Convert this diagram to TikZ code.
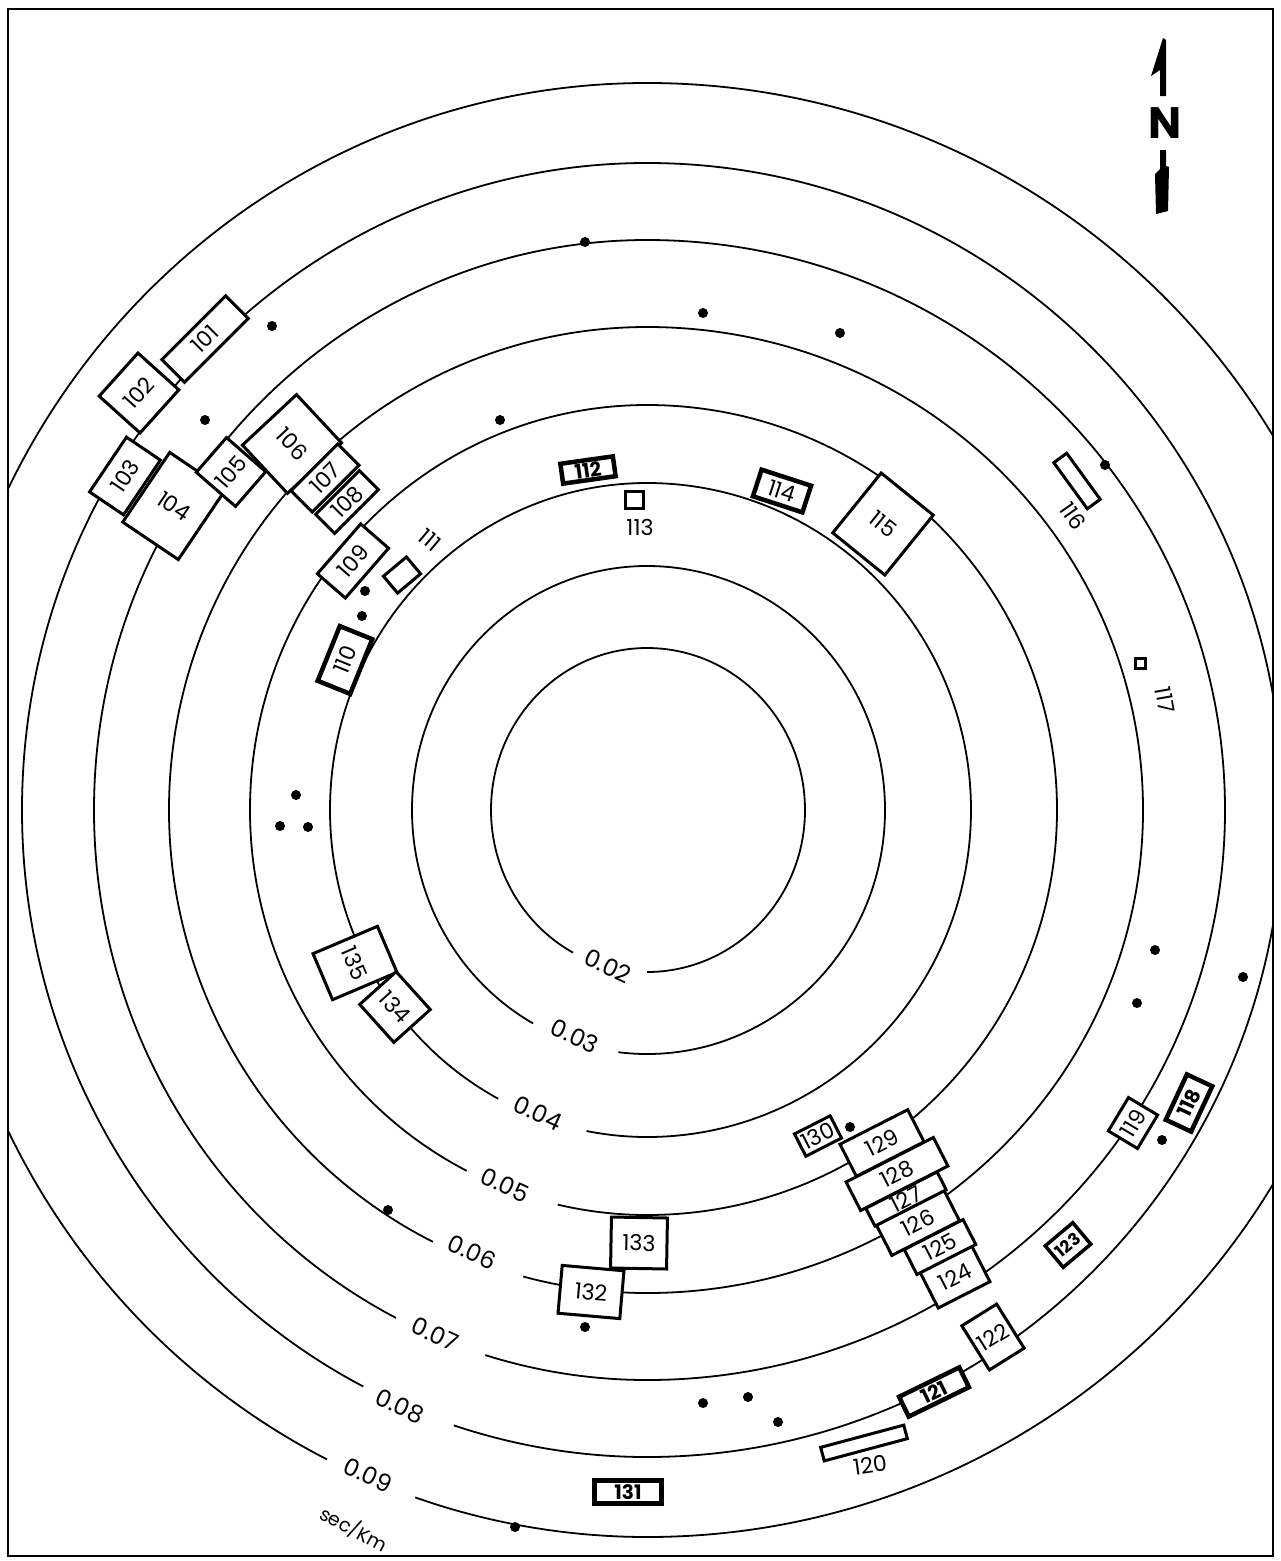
\documentclass[tikz,border=0pt]{standalone}
\usepackage{fontspec}
\setmainfont{Poppins}

\begin{document}
\begin{tikzpicture}[x=1pt, y=1pt,
  contour/.style={line width=1.8pt},
  stn/.style={draw, line width=3pt, fill=white, inner sep=0pt, font={\fontsize{22}{22}\selectfont}},
  heavy/.style={line width=4.5pt},
  stnbold/.style={stn, heavy, font={\fontsize{20}{20}\selectfont\bfseries}},
  isolabel/.style={font={\fontsize{24}{24}\selectfont}, rotate=-25, inner sep=1pt},
  tag/.style={font={\fontsize{22}{22}\selectfont}, inner sep=1pt},
  quake/.style={circle, fill, inner sep=0pt, minimum size=10pt}]
\useasboundingbox (0,0) rectangle (1280,-1561);
\draw[line width=2.5pt] (8,-9) rectangle (1273,-1556);
\coordinate (ctr) at (647,-810);

% slowness contours (east half a little wider)
\begin{scope}
\clip (8,-9) rectangle (1273,-1556);
\draw[contour] (ctr) ++(270:156 and 162)
  arc[start angle=-90, end angle=90, x radius=158, y radius=162]
  arc[start angle=90, end angle=241.7, x radius=156, y radius=162];
\draw[contour] (ctr) ++(263:235 and 244)
  arc[start angle=263, end angle=270, x radius=235, y radius=244]
  arc[start angle=-90, end angle=90, x radius=238, y radius=244]
  arc[start angle=90, end angle=241, x radius=235, y radius=244];
\draw[contour] (ctr) ++(259:317 and 327)
  arc[start angle=259, end angle=270, x radius=317, y radius=327]
  arc[start angle=-90, end angle=90, x radius=324, y radius=327]
  arc[start angle=90, end angle=242, x radius=317, y radius=327];
\draw[contour] (ctr) ++(257:397 and 405)
  arc[start angle=257, end angle=270, x radius=397, y radius=405]
  arc[start angle=-90, end angle=90, x radius=410, y radius=405]
  arc[start angle=90, end angle=243, x radius=397, y radius=405];
\draw[contour] (ctr) ++(255:478 and 483)
  arc[start angle=255, end angle=270, x radius=478, y radius=483]
  arc[start angle=-90, end angle=90, x radius=496, y radius=483]
  arc[start angle=90, end angle=243.4, x radius=478, y radius=483];
\draw[contour] (ctr) ++(253:553 and 570)
  arc[start angle=253, end angle=270, x radius=553, y radius=570]
  arc[start angle=-90, end angle=90, x radius=578, y radius=570]
  arc[start angle=90, end angle=243, x radius=553, y radius=570];
\draw[contour] (ctr) ++(252:625 and 647)
  arc[start angle=252, end angle=270, x radius=625, y radius=647]
  arc[start angle=-90, end angle=90, x radius=636, y radius=647]
  arc[start angle=90, end angle=243, x radius=625, y radius=647];
\draw[contour] (ctr) ++(251:712 and 727)
  arc[start angle=251, end angle=270, x radius=712, y radius=727]
  arc[start angle=-90, end angle=90, x radius=730, y radius=727]
  arc[start angle=90, end angle=243.3, x radius=712, y radius=727];
\end{scope}

\node[isolabel] (l02) at (608,-966) {0.02};
\node[isolabel] (l03) at (575,-1036) {0.03};
\node[isolabel] (l04) at (538,-1113) {0.04};
\node[isolabel] (l05) at (505,-1185) {0.05};
\node[isolabel] (l06) at (472,-1252) {0.06};
\node[isolabel] (l07) at (435,-1334) {0.07};
\node[isolabel] (l08) at (400,-1406) {0.08};
\node[isolabel] (l09) at (368,-1475) {0.09};
\node[isolabel, rotate=-3, font={\fontsize{19}{19}\selectfont}] (unit) at (354,-1529) {sec/Km};

% epicentres
\foreach \x/\y [count=\i] in {585/242, 272/326, 703/313, 840/333, 205/420, 500/420, 1105/465,
    365/591, 362/616, 296/795, 280/826, 308/827, 1155/950, 1243/977, 1137/1003, 1162/1140,
    850/1127, 388/1210, 585/1327, 703/1403, 748/1397, 778/1422, 515/1527}
  \node[quake] (q\i) at (\x,-\y) {};

% stations
\node[stn, rotate=45, minimum width=90, minimum height=32] (s101) at (205,-339) {101};
\node[stn, rotate=48, minimum width=58, minimum height=55] (s102) at (139,-393) {102};
\node[stn, rotate=56, minimum width=66, minimum height=41] (s103) at (125,-476) {103};
\node[stn, rotate=-34, minimum width=67, minimum height=84] (s104) at (174,-506) {104};
\node[stn, rotate=49, minimum width=46, minimum height=52] (s105) at (231,-472) {105};
\node[stn, rotate=-47, minimum width=66, minimum height=74] (s106) at (292,-444) {106};
\node[stn, rotate=45, minimum width=66, minimum height=30] (s107) at (325,-478) {107};
\node[stn, rotate=45, minimum width=62, minimum height=27] (s108) at (347,-502) {108};
\node[stn, rotate=49, minimum width=66, minimum height=37] (s109) at (353,-561) {109};
\node[stn, heavy, rotate=68, minimum width=59, minimum height=35] (s110) at (345,-660) {110};
\node[stn, rotate=40, minimum width=30, minimum height=22] (s111) at (402,-575) {};
\node[tag, rotate=-40] (t111) at (430,-540) {111};
\node[stnbold, rotate=8, minimum width=53, minimum height=20] (s112) at (588,-470) {112};
\node[stn, minimum width=18, minimum height=17] (s113) at (634,-500) {};
\node[tag] (t113) at (640,-527) {113};
\node[stn, heavy, rotate=-18, minimum width=52, minimum height=28] (s114) at (782,-491) {114};
\node[stn, rotate=-39, minimum width=67, minimum height=77] (s115) at (883,-524) {115};
\node[stn, rotate=-54, minimum width=57, minimum height=16] (s116) at (1077,-481) {};
\node[tag, rotate=-55] (t116) at (1073,-516) {116};
\node[stn, minimum width=10, minimum height=10] (s117) at (1140,-663) {};
\node[tag, rotate=-80] (t117) at (1165,-700) {117};
\node[stnbold, rotate=65, minimum width=50, minimum height=28] (s118) at (1189,-1103) {118};
\node[stn, rotate=59, minimum width=39, minimum height=34] (s119) at (1133,-1123) {119};
\node[stn, rotate=15, minimum width=86, minimum height=14] (s120) at (864,-1443) {};
\node[tag, rotate=8] (t120) at (870,-1465) {120};
\node[stnbold, rotate=26, minimum width=67, minimum height=22] (s121) at (934,-1392) {121};
\node[stn, rotate=32, minimum width=41, minimum height=52] (s122) at (993,-1337) {122};
\node[stn, line width=3.5pt, rotate=40, minimum width=36, minimum height=28,
  font={\fontsize{17}{17}\selectfont\bfseries}] (s123) at (1068,-1245) {123};
\node[stn, rotate=27, minimum width=58, minimum height=40] (s124) at (955,-1277) {124};
\node[stn, rotate=27, minimum width=66, minimum height=28] (s125) at (940,-1247) {125};
\node[stn, rotate=27, minimum width=76, minimum height=34] (s126) at (918,-1223) {126};
\node[stn, rotate=27, minimum width=80, minimum height=20] (s127) at (906,-1199) {127};
\node[stn, rotate=27, minimum width=98, minimum height=32] (s128) at (897,-1174) {128};
\node[stn, rotate=27, minimum width=76, minimum height=36] (s129) at (882,-1143) {129};
\node[stn, rotate=27, minimum width=40, minimum height=25] (s130) at (818,-1136) {130};
\node[stnbold, minimum width=67, minimum height=23] (s131) at (628,-1492) {131};
\node[stn, rotate=-1, minimum width=56, minimum height=51] (s133) at (639,-1243) {133};
\node[stn, rotate=-5, minimum width=62, minimum height=48] (s132) at (591,-1292) {132};
\node[stn, rotate=-67, minimum width=50, minimum height=70] (s135) at (355,-963) {135};
\node[stn, rotate=-48, minimum width=51, minimum height=49] (s134) at (395,-1007) {134};

% north arrow
\fill (1160,-96) -- (1160,-70) -- (1151,-76) -- (1163,-38) -- (1166,-40) -- (1166,-96) -- cycle;
\node[font={\fontsize{44}{44}\selectfont\bfseries}] (north) at (1165,-123) {N};
\fill (1160,-150) -- (1166,-150) -- (1166,-166) -- (1169,-167) -- (1168,-211) -- (1156,-214) -- (1155,-174) -- (1160,-169) -- cycle;
\end{tikzpicture}
\end{document}
